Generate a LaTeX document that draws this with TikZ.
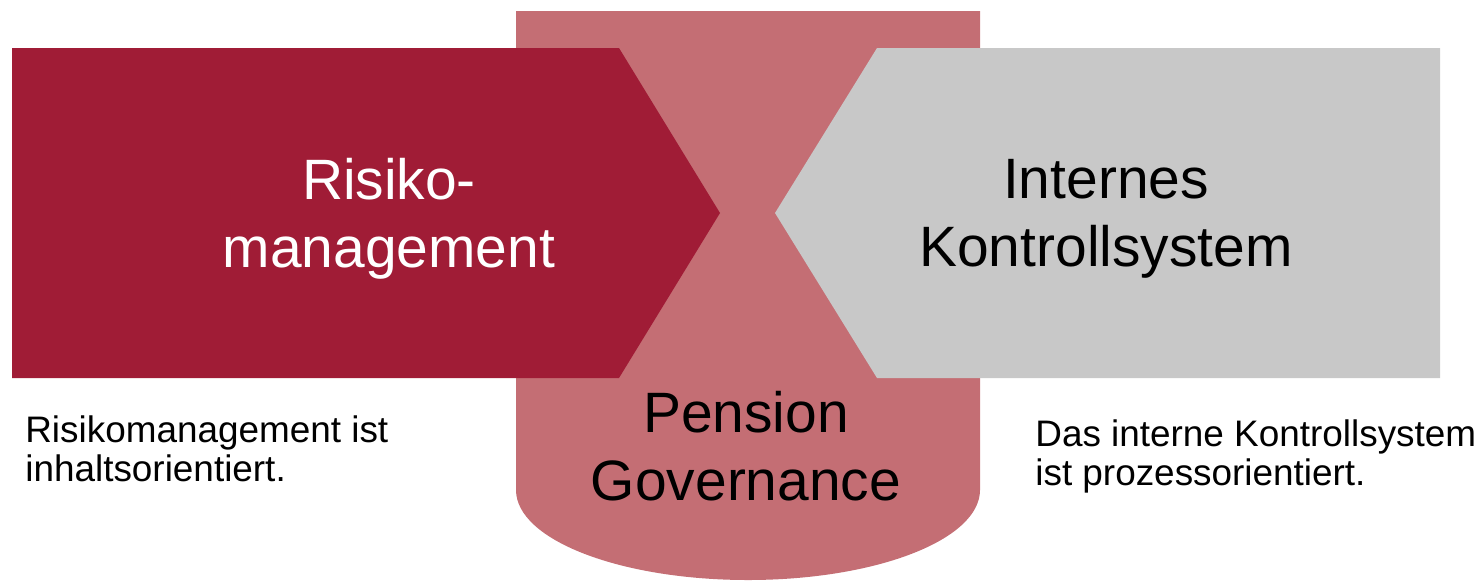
\documentclass[tikz,border=0pt]{standalone}
\usepackage{fontspec}
\setmainfont{Liberation Sans}
\definecolor{riskred}{HTML}{A01C36}
\definecolor{govpink}{HTML}{C46E74}
\definecolor{iksgrey}{HTML}{C8C8C8}
\begin{document}
\begin{tikzpicture}[x=0.02cm,y=-0.02cm]
\tikzstyle{big} = [align=center, inner sep=0pt, font=\fontsize{32.4}{38.7}\selectfont];
\tikzstyle{small} = [align=left, anchor=west, inner sep=0pt, font=\fontsize{21}{22.2}\selectfont];
\useasboundingbox (0,0) rectangle (1483,582);

% governance body sits behind both blocks
\fill[govpink] (516,11) -- (980,11) -- (980,490)
	arc[start angle=0, end angle=180, x radius=232, y radius=90] -- cycle;
% arrow on the left, notched block on the right
\fill[riskred] (12,48) -- (619,48) -- (720,213) -- (619,378) -- (12,378) -- cycle;
\fill[iksgrey] (877,48) -- (1440,48) -- (1440,378) -- (877,378) -- (775,213) -- cycle;

\node[big, text=white] (rm) at (389,219) {Risiko-\\management};
\node[big] (iks) at (1106,219) {Internes\\Kontrollsystem};
\node[big] (pg) at (746,446) {Pension\\Governance};

\node[small] (rm-note) at (25,449) {Risikomanagement ist\\inhaltsorientiert.};
\node[small] (iks-note) at (1035,456) {Das interne Kontrollsystem\\ist prozessorientiert.};
\end{tikzpicture}
\end{document}
